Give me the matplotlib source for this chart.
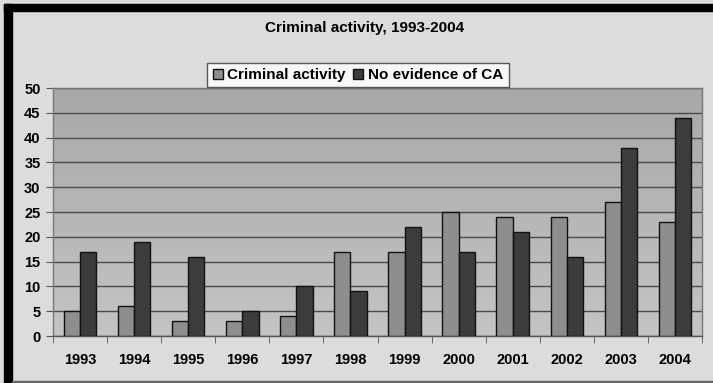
import matplotlib
matplotlib.use("Agg")
import matplotlib.pyplot as plt
import numpy as np
from matplotlib.patches import Rectangle, Patch

years = ['1993', '1994', '1995', '1996', '1997', '1998',
         '1999', '2000', '2001', '2002', '2003', '2004']
criminal = [5, 6, 3, 3, 4, 17, 17, 25, 24, 24, 27, 23]
no_evidence = [17, 19, 16, 5, 10, 9, 22, 17, 21, 16, 38, 44]

plt.rcParams['font.family'] = ['Liberation Sans', 'DejaVu Sans']
plt.rcParams['font.weight'] = 'bold'

fig = plt.figure(figsize=(7.13, 3.83), dpi=100, facecolor='#dcdcdc')
W, H = 713, 383

# black frame on the top and left edges
fig.patches.append(Rectangle((4 / W, 0), 8 / W, 1 - 4 / H, transform=fig.transFigure,
                             color='black', zorder=0))
fig.patches.append(Rectangle((4 / W, 1 - 11 / H), 1, 7 / H, transform=fig.transFigure,
                             color='black', zorder=0))
fig.patches.append(Rectangle((12 / W, 1.5 / H), 1, 1 / H, transform=fig.transFigure,
                             color='#666666', zorder=0))

ax = fig.add_axes([53 / W, 47 / H, 649 / W, 248 / H])
x = np.arange(len(years))
w = 0.3

# shaded plot area, darker at the top
grad = np.linspace(0, 1, 256).reshape(-1, 1)
ax.imshow(grad, extent=[0, 1, 0, 1], transform=ax.transAxes, aspect='auto',
          cmap=matplotlib.colors.LinearSegmentedColormap.from_list('bg', ['#c4c4c4', '#a8a8a8']),
          origin='lower', zorder=0)

ax.bar(x - w / 2, criminal, w, color='#8e8e8e', edgecolor='#111111', linewidth=1, zorder=3)
ax.bar(x + w / 2, no_evidence, w, color='#3c3c3c', edgecolor='#111111', linewidth=1, zorder=3)

ax.set_xlim(-0.5, len(years) - 0.5)
ax.set_ylim(0, 50)
ax.set_yticks(range(0, 51, 5))
ax.yaxis.grid(True, color='#4a4a4a', linewidth=1, zorder=1)
ax.set_axisbelow(True)

ax.set_xticks(x)
ax.set_xticklabels(years, fontsize=10.5, fontweight='bold')
ax.set_xticks(np.arange(-0.5, len(years), 1), minor=True)
ax.tick_params(axis='x', which='major', length=0, pad=12)
ax.tick_params(axis='x', which='minor', length=5, color='#555555', direction='out')
ax.tick_params(axis='y', length=5, color='#555555', labelsize=10.5, pad=4)
for lab in ax.get_yticklabels():
    lab.set_fontweight('bold')

for s in ax.spines.values():
    s.set_color('#777777')
    s.set_linewidth(1)
ax.spines['bottom'].set_color('#555555')

fig.text(0.512, 1 - 28 / H, 'Criminal activity, 1993-2004', ha='center', va='center',
         fontsize=11, fontweight='bold')

handles = [Patch(facecolor='#8e8e8e', edgecolor='#111111', linewidth=1),
           Patch(facecolor='#3c3c3c', edgecolor='#111111', linewidth=1)]
leg = fig.legend(handles, ['Criminal activity', 'No evidence of CA'], ncol=2,
                 loc='center', bbox_to_anchor=(358 / W, 1 - 75 / H),
                 frameon=True, fancybox=False, fontsize=11,
                 handlelength=0.65, handleheight=0.65, handletextpad=0.3,
                 columnspacing=0.5, borderpad=0.35, borderaxespad=0)
leg.get_frame().set_edgecolor('#333333')
leg.get_frame().set_linewidth(1)
for t in leg.get_texts():
    t.set_fontweight('bold')

fig.savefig('out.png', dpi=100, facecolor=fig.get_facecolor())
